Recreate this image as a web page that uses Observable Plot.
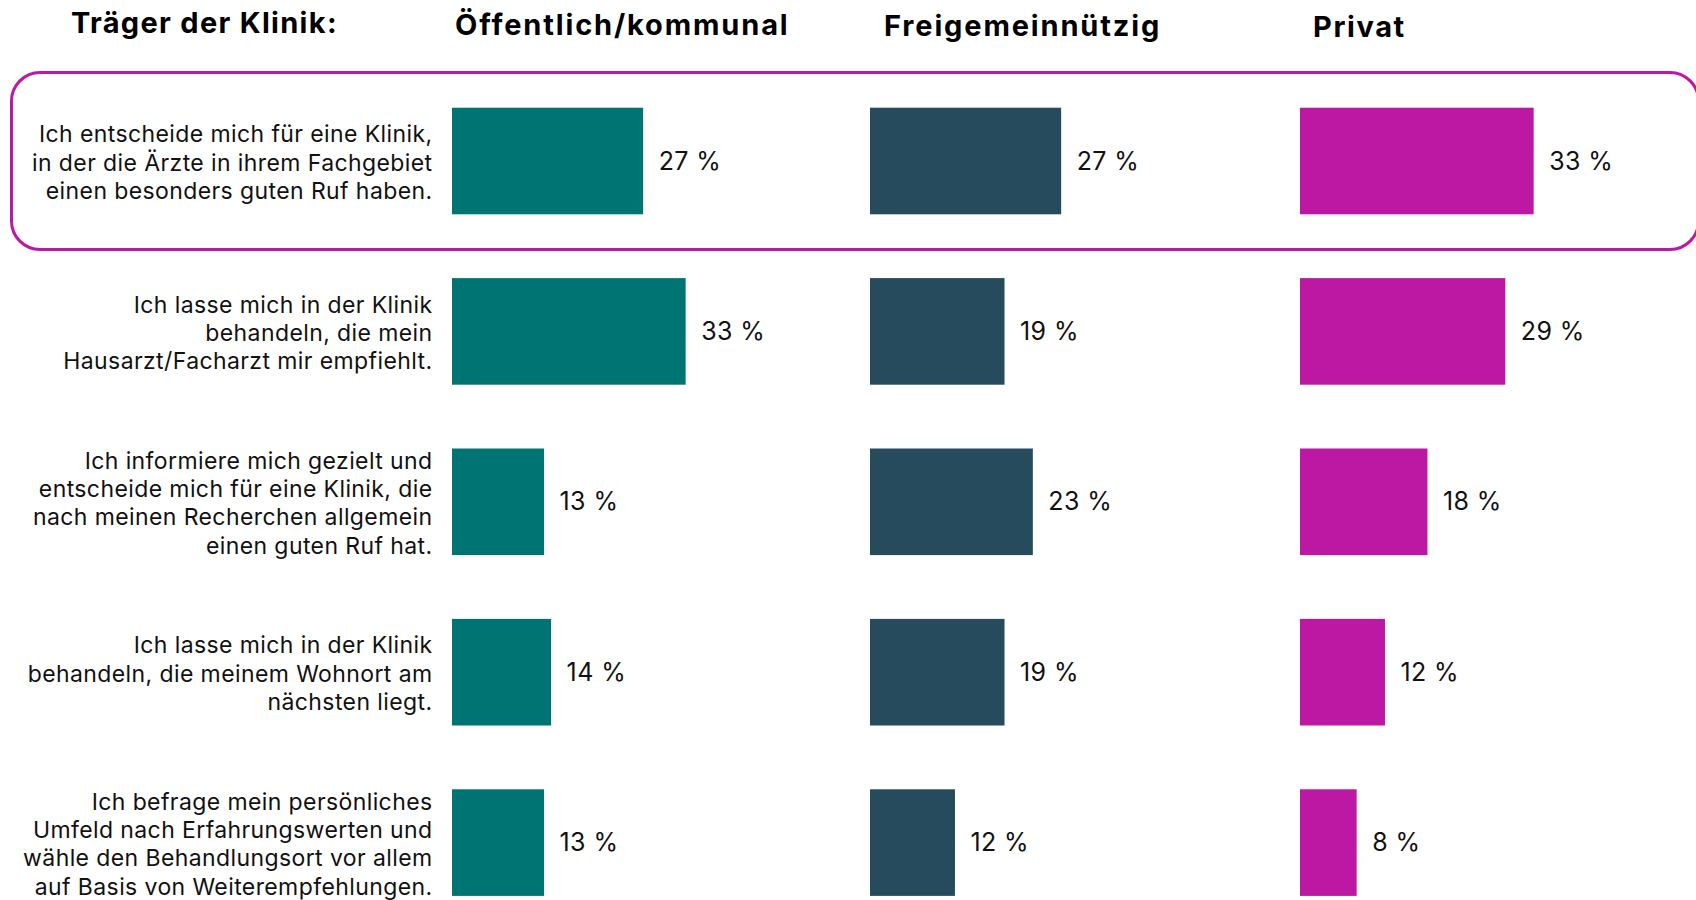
<!DOCTYPE html>
<html>
<head>
<meta charset="utf-8">
<script src="https://cdn.jsdelivr.net/npm/d3@7"></script>
<script src="https://cdn.jsdelivr.net/npm/@observablehq/plot@0.6"></script>
<style>
  html, body { margin: 0; padding: 0; background: #fff; }
  body { width: 1696px; height: 900px; overflow: hidden; position: relative; font-family: Inter, "Noto Sans", sans-serif; color: #111; }
  #header { position: relative; height: 60px; }
  #header span { position: absolute; font-weight: 700; font-size: 29px; line-height: 1; white-space: nowrap; color: #000; }
  #charts { position: relative; height: 840px; }
  #charts > div.plot { position: absolute; top: 0; }
  #box { position: absolute; box-sizing: border-box; border: 3px solid #BC18A4; border-radius: 30px; }
</style>
</head>
<body>
<div id="header"></div>
<div id="charts"></div>
<script>
// ---- data ----
const headerTitle = "Träger der Klinik:";
const carriers = ["Öffentlich/kommunal", "Freigemeinnützig", "Privat"];
const statements = [
  "Ich entscheide mich für eine Klinik,\nin der die Ärzte in ihrem Fachgebiet\neinen besonders guten Ruf haben.",
  "Ich lasse mich in der Klinik\nbehandeln, die mein\nHausarzt/Facharzt mir empfiehlt.",
  "Ich informiere mich gezielt und\nentscheide mich für eine Klinik, die\nnach meinen Recherchen allgemein\neinen guten Ruf hat.",
  "Ich lasse mich in der Klinik\nbehandeln, die meinem Wohnort am\nnächsten liegt.",
  "Ich befrage mein persönliches\nUmfeld nach Erfahrungswerten und\nwähle den Behandlungsort vor allem\nauf Basis von Weiterempfehlungen."
];
const oeffentlich = [27, 33, 13, 14, 13];
const freigemeinnuetzig = [27, 19, 23, 19, 12];
const privat = [33, 29, 18, 12, 8];
const colors = ["#007373", "#264B5D", "#BC18A4"];

// ---- layout ----
const header = document.getElementById("header");
const headerSpecs = [
  {text: headerTitle, left: 71, top: 8.3, ls: 1.3},
  {text: carriers[0], left: 455, top: 10, ls: 1.85},
  {text: carriers[1], left: 884, top: 11, ls: 1.85},
  {text: carriers[2], left: 1313, top: 12.3, ls: 1.6}
];
for (const h of headerSpecs) {
  const s = document.createElement("span");
  s.textContent = h.text;
  s.style.left = h.left + "px";
  s.style.top = h.top + "px";
  s.style.letterSpacing = h.ls + "px";
  header.appendChild(s);
}

const seriesValues = [oeffentlich, freigemeinnuetzig, privat];
const panels = [
  {left: 0, width: 870, marginLeft: 452, marginRight: 64},
  {left: 870, width: 430, marginLeft: 0, marginRight: 76},
  {left: 1300, width: 396, marginLeft: 0, marginRight: 42}
];
const charts = document.getElementById("charts");
let yScale = null;

panels.forEach((p, i) => {
  const data = statements.map((s, j) => ({statement: s, value: seriesValues[i][j]}));
  const marks = [
    Plot.barX(data, {x: "value", y: "statement", fill: colors[i]}),
    Plot.text(data, {
      x: "value", y: "statement", text: d => `${d.value} %`,
      dx: 15, textAnchor: "start", fontSize: 25, fill: "#111"
    })
  ];
  if (i === 0) {
    marks.push(Plot.text(statements, {
      y: d => d, text: d => d, frameAnchor: "left",
      dx: -20, textAnchor: "end", fontSize: 23, lineHeight: 1.23, fill: "#111"
    }));
  }
  const plot = Plot.plot({
    width: p.width,
    height: 840,
    marginLeft: p.marginLeft,
    marginRight: p.marginRight,
    marginTop: 47.7,
    marginBottom: 4.1,
    x: {domain: [0, 50], axis: null},
    y: {domain: statements, axis: null, paddingInner: 0.3744, paddingOuter: 0, round: false},
    style: {fontFamily: "Inter, 'Noto Sans', sans-serif", overflow: "visible", background: "transparent", letterSpacing: "0.4px"},
    marks
  });
  const wrap = document.createElement("div");
  wrap.className = "plot";
  wrap.style.left = p.left + "px";
  wrap.appendChild(plot);
  charts.appendChild(wrap);
  if (i === 0) yScale = plot.scale("y");
});

// highlight box around the first statement, positioned from the y scale
const bandTop = yScale.apply(statements[0]);
const bw = yScale.bandwidth;
const box = document.createElement("div");
box.id = "box";
box.style.left = "10px";
box.style.width = "1690px";
box.style.top = (bandTop - 37) + "px";
box.style.height = (bw + 74) + "px";
charts.insertBefore(box, charts.firstChild);
</script>
</body>
</html>
